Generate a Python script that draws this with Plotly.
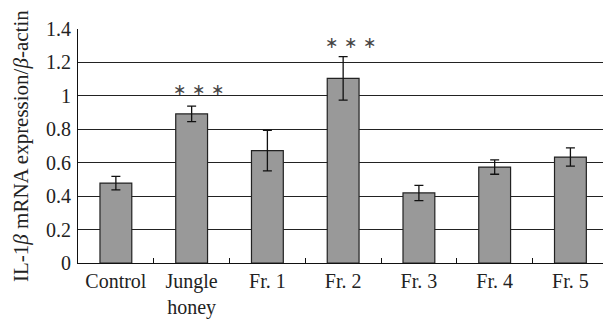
import plotly.graph_objects as go

categories = ["Control", "Jungle<br>honey", "Fr. 1", "Fr. 2", "Fr. 3", "Fr. 4", "Fr. 5"]
values = [0.478, 0.892, 0.672, 1.105, 0.419, 0.574, 0.634]
errors = [0.040, 0.046, 0.121, 0.130, 0.046, 0.043, 0.055]
star_positions = [(1, 1.04), (3, 1.317)]

FONT = "Liberation Serif"

fig = go.Figure()
fig.add_trace(go.Bar(
    x=categories, y=values, width=0.42,
    marker=dict(color="#999999", line=dict(color="#222222", width=1.2)),
    error_y=dict(type="data", array=errors, color="#111111", thickness=1.3, width=4.5),
))

annotations = []
for idx, yv in star_positions:
    for k in (-1, 0, 1):
        annotations.append(dict(
            x=categories[idx], y=yv, xref="x", yref="y", text="∗", showarrow=False,
            xshift=7 + 19 * k, yanchor="middle", xanchor="center",
            font=dict(family="DejaVu Sans", size=16, color="#444444")))
annotations.append(dict(
    x=-57/525, y=0.5, xref="paper", yref="paper", text="IL-1<i>β</i> mRNA expression/<i>β</i>-actin",
    textangle=-90, showarrow=False, xanchor="center", yanchor="middle",
    font=dict(family=FONT, size=21, color="#222222")))

fig.update_layout(
    width=603, height=320,
    margin=dict(l=78, r=0, t=29, b=57),
    paper_bgcolor="white", plot_bgcolor="white",
    showlegend=False,
    font=dict(family=FONT, size=20, color="#222222"),
    annotations=annotations,
)
fig.update_xaxes(
    range=[-0.5, 6.43], showline=True, linecolor="#111111", linewidth=1.2,
    ticks="inside", ticklen=5, tickcolor="#111111", tickson="boundaries",
    showgrid=False, tickfont=dict(family=FONT, size=20, color="#222222"),
)
fig.update_yaxes(
    range=[0, 1.4], tickvals=[0, 0.2, 0.4, 0.6, 0.8, 1, 1.2, 1.4],
    ticktext=["0", "0.2", "0.4", "0.6", "0.8", "1", "1.2", "1.4"],
    showline=True, linecolor="#111111", linewidth=1.2,
    showgrid=True, gridcolor="#222222", gridwidth=1, zeroline=False,
    ticks="", ticklabelstandoff=2,
    tickfont=dict(family=FONT, size=20, color="#222222"),
)

fig.write_html("out.html")
